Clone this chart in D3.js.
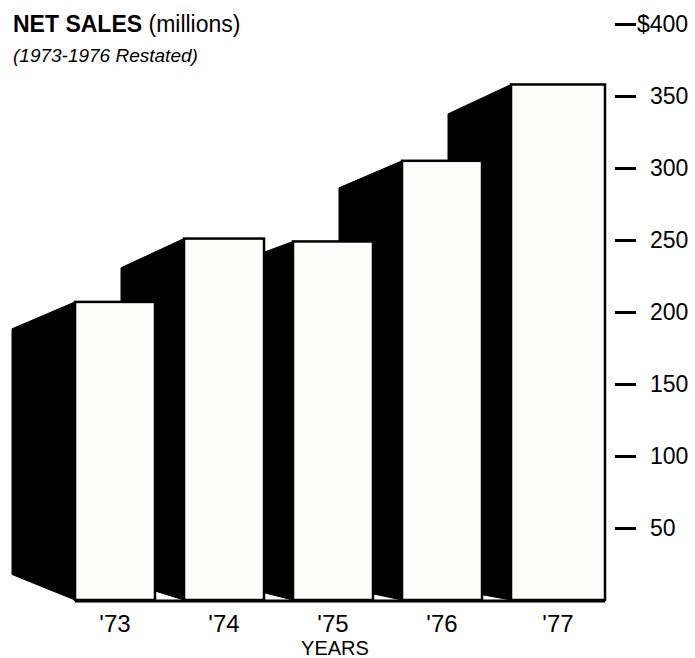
<!DOCTYPE html>
<html>

<head>
    <meta charset="utf-8">
    <title>Net Sales</title>
    <style>
        body { margin: 0; background: #fff; }
        text { font-family: "Liberation Sans", Arial, sans-serif; fill: #000; }
    </style>
</head>

<body>
    <svg></svg>
    <script src="https://cdnjs.cloudflare.com/ajax/libs/d3/7.8.5/d3.min.js"></script>

    <script>
        // values (millions of dollars)
        var years = ["'73", "'74", "'75", "'76", "'77"];
        var sales = [207, 251, 249, 305, 358];
        var tickValues = [50, 100, 150, 200, 250, 300, 350, 400];

        var width = 695,
            height = 658,
            baseY = 600,
            depth = 63,               // horizontal depth of the black side faces
            vanish = [-283, 455],     // point the side faces run towards
            lastExtra = 14;           // the '77 block is printed a little wider

        var svg = d3.select('svg')
            .attr('width', width)
            .attr('height', height);

        var x = d3.scaleBand()
            .domain(years)
            .range([75, 591])
            .paddingInner(29 / 109)
            .paddingOuter(0);

        var y = d3.scaleLinear().domain([0, 400]).range([baseY, 24]);

        var data = years.map((d, i) => ({ year: d, value: sales[i] }));

        // point on the back edge of a side face, for a front corner (fx, fy)
        function back(fx, fy) {
            var k = depth / (fx - vanish[0]);
            return [fx - depth, fy + (vanish[1] - fy) * k];
        }

        // draw from right to left so each front face covers the side behind it
        var bars = svg.append('g')
            .selectAll('g')
            .data(data.slice().reverse())
            .join('g');

        bars.append('path')
            .attr('d', d => {
                var fx = x(d.year), top = y(d.value);
                var bt = back(fx, top), bb = back(fx, baseY);
                return d3.line()([[fx, top], bt, bb, [fx, baseY]]) + 'Z';
            })
            .attr('fill', '#000')
            .attr('stroke', '#000')
            .attr('stroke-width', 1);

        bars.append('rect')
            .attr('x', d => x(d.year))
            .attr('y', d => y(d.value))
            .attr('width', d => x.bandwidth() + (d.year === "'77" ? lastExtra : 0))
            .attr('height', d => baseY - y(d.value))
            .attr('fill', '#fdfdfb')
            .attr('stroke', '#000')
            .attr('stroke-width', 2.5);

        // base line under the blocks
        svg.append('line')
            .attr('x1', x(years[0]))
            .attr('x2', x(years[years.length - 1]) + x.bandwidth() + lastExtra)
            .attr('y1', baseY + 1)
            .attr('y2', baseY + 1)
            .attr('stroke', '#000')
            .attr('stroke-width', 3);

        // year labels
        var xAxis = svg.append('g')
            .attr('class', 'x')
            .attr('transform', `translate(0, ${baseY})`)
            .call(d3.axisBottom(x).tickSize(0).tickPadding(10));
        xAxis.select('.domain').remove();
        xAxis.selectAll('.tick')
            .attr('transform', d => `translate(${x(d) + (x.bandwidth() + (d === "'77" ? lastExtra : 0)) / 2},0)`);
        xAxis.selectAll('text')
            .attr('font-family', '"Liberation Sans", Arial, sans-serif')
            .attr('font-size', 24)
            .attr('dy', '0.9em');

        svg.append('text')
            .attr('x', 335)
            .attr('y', 655)
            .attr('text-anchor', 'middle')
            .attr('font-size', 20)
            .text('YEARS');

        // value axis on the right
        var yAxis = svg.append('g')
            .attr('class', 'y')
            .attr('transform', 'translate(615,0)')
            .call(d3.axisRight(y)
                .tickValues(tickValues)
                .tickSize(21)
                .tickPadding(14)
                .tickFormat(d => d === 400 ? '$400' : d));
        yAxis.select('.domain').remove();
        yAxis.selectAll('line')
            .attr('stroke', '#000')
            .attr('stroke-width', 3);
        yAxis.selectAll('text')
            .attr('font-family', '"Liberation Sans", Arial, sans-serif')
            .attr('font-size', 23)
            .attr('fill', '#000');
        yAxis.selectAll('.tick')
            .filter(d => d === 400)
            .select('text')
            .attr('x', 22);

        // titles
        var title = svg.append('text')
            .attr('x', 13)
            .attr('y', 32)
            .attr('font-size', 23);
        title.append('tspan').attr('font-weight', 'bold').text('NET SALES');
        title.append('tspan').text(' (millions)');

        svg.append('text')
            .attr('x', 13)
            .attr('y', 62)
            .attr('font-size', 19)
            .attr('font-style', 'italic')
            .text('(1973-1976 Restated)');
    </script>
</body>

</html>
